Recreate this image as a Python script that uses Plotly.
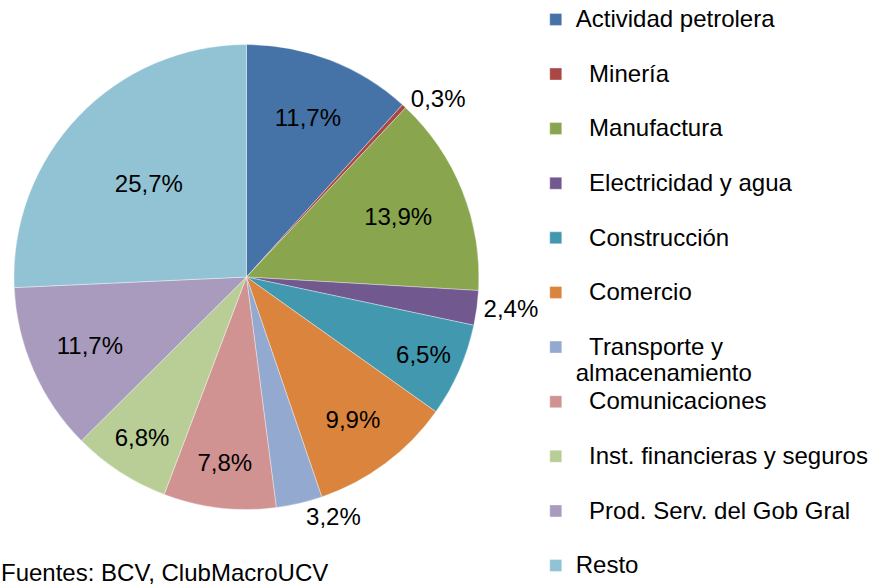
import plotly.graph_objects as go

categories = [
    "Actividad petrolera",
    "Minería",
    "Manufactura",
    "Electricidad y agua",
    "Construcción",
    "Comercio",
    "Transporte y<br>almacenamiento",
    "Comunicaciones",
    "Inst. financieras y seguros",
    "Prod. Serv. del Gob Gral",
    "Resto",
]
indent = [False, True, True, True, True, True, True, True, True, True, False]
values = [11.7, 0.3, 13.9, 2.4, 6.5, 9.9, 3.2, 7.8, 6.8, 11.7, 25.7]
colors = ["#4572A7", "#AA4643", "#89A54E", "#71588F", "#4198AF", "#DB843D",
          "#93A9CF", "#D19392", "#B9CD96", "#A99BBD", "#92C3D4"]
text_positions = ["inside", "outside", "inside", "outside", "inside", "inside",
                  "outside", "inside", "inside", "inside", "inside"]
source_text = "Fuentes: BCV, ClubMacroUCV"

W, H = 874, 587
FONT = "Liberation Sans, Arial, sans-serif"

# legend labels: bigger glyphs inside a smaller line box, padded with a blank line
legend_labels = []
for i, (c, ind) in enumerate(zip(categories, indent)):
    lab = ("\u00a0\u00a0" if ind else "") + c
    lab = '<span style="font-size:24px">' + lab.replace("<br>", '</span><br><span style="font-size:24px">') + "</span>"
    if "<br>" not in c and i < len(categories) - 1:
        lab += "<br> "
    legend_labels.append(lab)

cx, cy, R = 247, 277, 233
fig = go.Figure(go.Pie(
    labels=legend_labels,
    values=values,
    sort=False,
    direction="clockwise",
    rotation=0,
    marker=dict(colors=colors, line=dict(color="rgba(255,255,255,0.6)", width=0.6)),
    texttemplate="%{value:.1f}%",
    textposition=text_positions,
    insidetextorientation="horizontal",
    textfont=dict(family=FONT, size=24, color="black"),
    hoverinfo="label+value",
    domain=dict(x=[(cx - R) / W, (cx + R) / W], y=[(H - cy - R) / H, (H - cy + R) / H]),
))

fig.update_layout(
    width=W, height=H,
    margin=dict(l=0, r=0, t=0, b=0),
    paper_bgcolor="white",
    plot_bgcolor="white",
    separators=",.",
    font=dict(family=FONT, color="black"),
    uniformtext=dict(minsize=24, mode="show"),
    legend=dict(
        x=537 / W, xanchor="left",
        y=1.0, yanchor="top",
        valign="top",
        font=dict(family=FONT, size=19.85, color="black"),
        bgcolor="rgba(0,0,0,0)",
        traceorder="normal",
    ),
    annotations=[dict(
        text=source_text, x=0, xref="paper", xanchor="left",
        y=0, yref="paper", yanchor="bottom", borderpad=0,
        showarrow=False, font=dict(family=FONT, size=24, color="black"),
    )],
)

fig.write_html(
    "out.html",
    config={"displayModeBar": False},
    post_script="document.body.style.margin='0';document.body.style.overflow='hidden';",
)
